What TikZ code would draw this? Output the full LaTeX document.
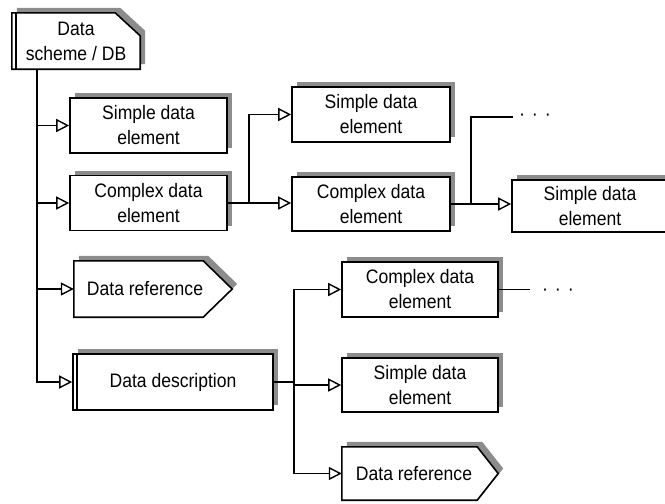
\documentclass[tikz,border=0pt]{standalone}
\usepackage{fontspec}
\setmainfont{Liberation Sans}[FakeStretch=0.9]
\usetikzlibrary{arrows.meta,shadows,backgrounds,calc}
\begin{document}
\begin{tikzpicture}[x=1pt,y=-1pt,
  every node/.style={font=\fontsize{19.5}{25}\selectfont},
  shad/.style={fill=black!45, draw=none},
  box/.style={draw, line width=1.6pt, fill=white, inner sep=0pt, align=center,
    copy shadow={shadow xshift=5pt, shadow yshift=5pt, fill=black!45, draw=none}},
  body/.style={inner sep=0pt, align=center},
  outline/.style={draw, line width=1.6pt, fill=white},
  conn/.style={line width=1.4pt, -{Triangle[open, length=13pt, width=13pt]}},
  plain/.style={line width=1.4pt},
  dots/.style={inner sep=0pt, font=\fontsize{20}{24}\selectfont}
]
\useasboundingbox (0,0) rectangle (665,504);

% Data scheme / DB (chamfered)
\node[body, minimum width=128pt, minimum height=56pt] (db) at (76,41) {Data\\scheme / DB};
% Data reference 1
\node[body, minimum width=129pt, minimum height=56pt] (r1) at (138.5,289) {\makebox[0pt]{\hspace{13pt}Data reference}};
% Data reference 2
\node[body, minimum width=135pt, minimum height=53pt] (r2) at (409.5,473.5) {\makebox[0pt]{\hspace{9pt}Data reference}};

\begin{scope}[on background layer]
  \fill[shad, transform canvas={shift={(5pt,5pt)}}] (db.south west) -- (db.north west) -- ([xshift=-25pt]db.north east) -- ([yshift=-23pt]db.north east) -- (db.south east) -- cycle;
  \path[outline] (db.south west) -- (db.north west) -- ([xshift=-25pt]db.north east) -- ([yshift=-23pt]db.north east) -- (db.south east) -- cycle;
  \fill[shad, transform canvas={shift={(5pt,5pt)}}] (r1.south west) -- (r1.north west) -- (r1.north east) -- ([xshift=29pt]r1.east) -- (r1.south east) -- cycle;
  \path[outline] (r1.south west) -- (r1.north west) -- (r1.north east) -- ([xshift=29pt]r1.east) -- (r1.south east) -- cycle;
  \fill[shad, transform canvas={shift={(5pt,5pt)}}] (r2.south west) -- (r2.north west) -- (r2.north east) -- ([xshift=21pt]r2.east) -- (r2.south east) -- cycle;
  \path[outline] (r2.south west) -- (r2.north west) -- (r2.north east) -- ([xshift=21pt]r2.east) -- (r2.south east) -- cycle;
\end{scope}
\draw[line width=1.6pt] ([xshift=4pt]db.north west) -- ([xshift=4pt]db.south west);

% rectangular boxes
\node[box, minimum width=157pt, minimum height=55pt] (s1) at (148.5,125.5) {Simple data\\element};
\node[box, minimum width=157pt, minimum height=55pt] (c1) at (148.5,203) {Complex data\\element};
\node[box, minimum width=200pt, minimum height=56pt] (dd) at (173,382) {Data description};
\draw[line width=1.6pt] ([xshift=5pt]dd.north west) -- ([xshift=5pt]dd.south west);
\node[box, minimum width=158pt, minimum height=55pt] (s2) at (371,114.5) {Simple data\\element};
\node[box, minimum width=158pt, minimum height=54pt] (c2) at (371,204) {Complex data\\element};
\node[box, minimum width=156pt, minimum height=52pt] (s3) at (590,206) {Simple data\\element};
\node[box, minimum width=156pt, minimum height=55pt] (c3) at (420,289.5) {Complex data\\element};
\node[box, minimum width=156pt, minimum height=54pt] (s4) at (420,385) {Simple data\\element};

% continuation marks
\coordinate (e1) at (513,117);
\node[dots] (more1) at (535,117) {\textperiodcentered\hspace{7pt}\textperiodcentered\hspace{7pt}\textperiodcentered};
\coordinate (e2) at (530,292.5);
\node[dots] (more2) at (558,292.5) {\textperiodcentered\hspace{7pt}\textperiodcentered\hspace{7pt}\textperiodcentered};

% connectors
\coordinate (t) at ([xshift=25pt]db.south west);
\draw[conn] (t) |- (s1.west);
\draw[conn] (t) |- (c1.west);
\draw[conn] (t) |- (r1.west);
\draw[conn] (t) |- (dd.west);

\draw[conn] (c1.east) -- ++(21,0) |- (s2.west);
\draw[conn] (c1.east) -- (c1.east -| c2.west);
\draw[conn] (c2.east) -- (c2.east -| s3.west);
\draw[plain] (c2.east) -- ++(20,0) |- (e1);

\draw[conn] (dd.east) -- ++(20,0) |- (c3.west);
\draw[conn] (dd.east) -- ++(20,0) |- (s4.west);
\draw[conn] (dd.east) -- ++(20,0) |- (r2.west);
\draw[plain] (c3.east) -- (c3.east -| e2);
\end{tikzpicture}
\end{document}
